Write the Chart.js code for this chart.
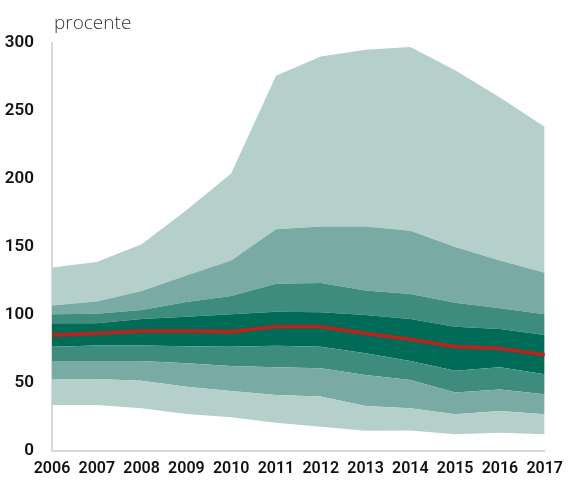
<!DOCTYPE html>
<html>
<head>
<meta charset="utf-8">
<script src="https://cdn.jsdelivr.net/npm/chart.js@4/dist/chart.umd.min.js"></script>
<style>
html,body{margin:0;padding:0;background:#fff;}
#wrap{width:571px;height:480px;position:relative;}
</style>
</head>
<body>
<div id="wrap"><canvas id="c" width="571" height="480"></canvas></div>
<script>
const years = ['2006','2007','2008','2009','2010','2011','2012','2013','2014','2015','2016','2017'];
const minVals = [33.8, 33.8, 31.4, 27.2, 24.8, 20.8, 17.9, 14.9, 15.0, 12.3, 13.5, 12.3];
const p10 = [52.9, 52.9, 51.7, 47.3, 44.1, 41.2, 40.0, 33.0, 31.4, 27.0, 29.4, 27.0];
const p25 = [66.2, 66.2, 66.2, 64.5, 62.5, 61.5, 60.8, 55.9, 52.2, 43.0, 45.3, 41.7];
const p40 = [76.7, 77.5, 77.5, 77.0, 76.7, 77.4, 76.7, 71.8, 66.2, 59.0, 61.5, 56.4];
const p60 = [94.0, 94.0, 97.0, 98.8, 100.5, 102.4, 102.0, 100.0, 97.0, 91.4, 89.7, 85.3];
const p75 = [100.5, 101.0, 103.7, 109.6, 114.0, 123.0, 123.5, 118.0, 115.4, 109.0, 105.0, 100.5];
const p90 = [107.0, 110.0, 117.6, 129.0, 140.0, 163.0, 165.0, 165.0, 162.0, 150.0, 140.0, 131.0];
const maxVals = [135.0, 139.0, 152.0, 177.0, 204.0, 276.0, 290.0, 295.0, 297.0, 280.0, 260.0, 238.5];
const median = [85.3, 86.5, 88.2, 88.2, 87.7, 91.4, 91.4, 86.5, 82.0, 76.7, 75.5, 70.6];
const yTicks = [0, 50, 100, 150, 200, 250, 300];
const unitLabel = 'procente';

const C1 = '#b5cfcb', C2 = '#79aaa3', C3 = '#3e8c7e', C4 = '#006b56', RED = '#b3261e';
function band(data, color){
  return {data:data, fill:'-1', backgroundColor:color, borderWidth:0, pointRadius:0, tension:0, order:2};
}
const fontFam = 'Roboto, "Liberation Sans", sans-serif';

const titlePlugin = {
  id:'unitTitle',
  afterDraw(chart){
    const ctx = chart.ctx;
    ctx.save();
    ctx.font = '300 19px "Open Sans", "Noto Sans", sans-serif';
    ctx.fillStyle = '#333';
    ctx.textAlign = 'left';
    ctx.textBaseline = 'alphabetic';
    ctx.fillText(unitLabel, 54, 29);
    ctx.restore();
  }
};

new Chart(document.getElementById('c'), {
  type:'line',
  data:{
    labels: years,
    datasets:[
      {data:minVals, fill:false, borderWidth:0, pointRadius:0, tension:0, order:2},
      band(p10, C1),
      band(p25, C2),
      band(p40, C3),
      band(p60, C4),
      band(p75, C3),
      band(p90, C2),
      band(maxVals, C1),
      {data:median, fill:false, borderColor:RED, borderWidth:3.8, pointRadius:0, tension:0, order:1}
    ]
  },
  options:{
    responsive:false,
    animation:false,
    plugins:{legend:{display:false}, tooltip:{enabled:false}},
    layout:{padding:{left:0, right:20, top:43, bottom:0}},
    scales:{
      x:{
        offset:false,
        grid:{display:false, drawTicks:false},
        border:{display:true, color:'#d9d9d9', width:2},
        ticks:{color:'#111', font:{family:fontFam, size:16, weight:'600'}, padding:8, maxRotation:0, autoSkip:false},
        afterFit(s){ s.height = 29; }
      },
      y:{
        min:0, max:300,
        afterBuildTicks(s){ s.ticks = yTicks.map(v=>({value:v})); },
        grid:{display:false, drawTicks:false},
        border:{display:true, color:'#d9d9d9', width:2},
        ticks:{color:'#111', font:{family:fontFam, size:17, weight:'600'}, padding:18},
        afterFit(s){ s.width = 52; }
      }
    }
  },
  plugins:[titlePlugin]
});
</script>
</body>
</html>
